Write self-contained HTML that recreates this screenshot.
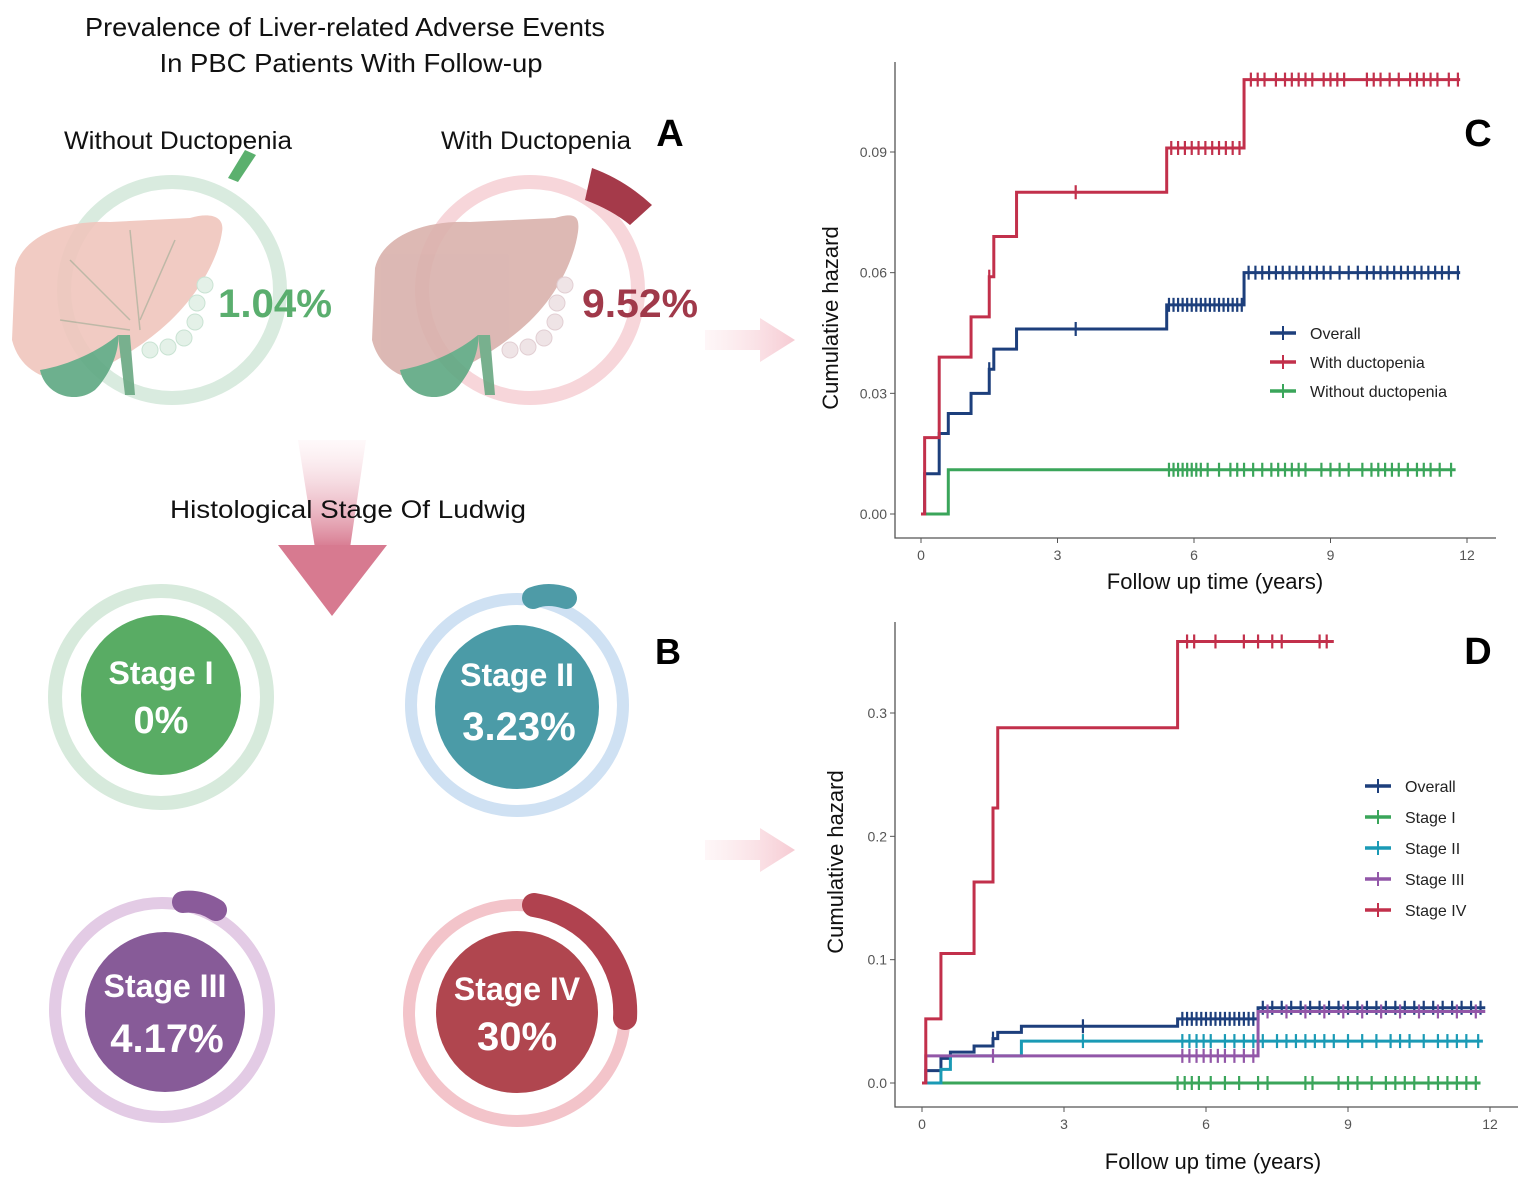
<!DOCTYPE html>
<html><head><meta charset="utf-8"><style>
html,body{margin:0;padding:0;background:#fff;}
svg{display:block;font-family:"Liberation Sans",sans-serif;}
</style></head><body>
<svg id="fig" width="1535" height="1186" viewBox="0 0 1535 1186" xmlns="http://www.w3.org/2000/svg">
<defs>
<linearGradient id="gArrowR" x1="0" x2="1" y1="0" y2="0"><stop offset="0" stop-color="#fbe3e7" stop-opacity="0.3"/><stop offset="1" stop-color="#f6cbd3"/></linearGradient>
<linearGradient id="gArrowD" x1="0" x2="0" y1="0" y2="1"><stop offset="0" stop-color="#fbe1e6" stop-opacity="0.2"/><stop offset="1" stop-color="#d77a90"/></linearGradient>
</defs>

<g>
<text x="345" y="36" text-anchor="middle" font-size="26" fill="#111" textLength="520" lengthAdjust="spacingAndGlyphs">Prevalence of Liver-related Adverse Events</text>
<text x="351" y="72" text-anchor="middle" font-size="26" fill="#111" textLength="383" lengthAdjust="spacingAndGlyphs">In PBC Patients With Follow-up</text>
</g>
<text x="178" y="149" text-anchor="middle" font-size="25" fill="#111" textLength="228" lengthAdjust="spacingAndGlyphs">Without Ductopenia</text>
<text x="536" y="149" text-anchor="middle" font-size="25" fill="#111" textLength="190" lengthAdjust="spacingAndGlyphs">With Ductopenia</text>
<text x="670" y="146" text-anchor="middle" font-size="38" font-weight="bold" fill="#000">A</text>
<text x="668" y="664" text-anchor="middle" font-size="36" font-weight="bold" fill="#000">B</text>
<text x="1478" y="146" text-anchor="middle" font-size="38" font-weight="bold" fill="#000">C</text>
<text x="1478" y="664" text-anchor="middle" font-size="38" font-weight="bold" fill="#000">D</text>

<g>
<circle cx="172" cy="290" r="108" fill="none" stroke="#d9ebdf" stroke-width="14"/>
<path d="M228,178 L238,182 L256,155 L245,150 Z" fill="#5bb06e"/>
<g opacity="0.9">
<path d="M15,268 C22,238 60,220 110,222 L190,218 C210,212 225,216 222,232 C218,260 196,300 160,330 C130,355 100,370 80,378 C50,385 20,372 12,340 Z" fill="#f0c6bd"/>
<path d="M40,370 C45,395 75,405 95,390 C110,375 120,350 118,335 C100,350 70,365 40,370 Z" fill="#5ea882"/>
<path d="M118,335 L125,395 L135,395 L130,335 Z" fill="#6aa882"/>
<path d="M130,230 L140,330 M70,260 L130,320 M175,240 L140,320 M60,320 L130,330" stroke="#b8b19e" stroke-width="1.5" fill="none"/>
</g>
<g fill="#e4f1e8" stroke="#c9e3d3"><circle cx="205" cy="285" r="8"/><circle cx="197" cy="303" r="8"/><circle cx="195" cy="322" r="8"/><circle cx="184" cy="338" r="8"/><circle cx="168" cy="347" r="8"/><circle cx="150" cy="350" r="8"/></g>
<text x="275" y="317" text-anchor="middle" font-size="40" font-weight="bold" fill="#5aae6e" textLength="114" lengthAdjust="spacingAndGlyphs">1.04%</text>
</g>
<g>
<circle cx="530" cy="290" r="108" fill="none" stroke="#f7d6da" stroke-width="14"/>
<path d="M592,168 Q625,180 652,205 L630,225 Q612,210 585,200 Z" fill="#a53a4a"/>
<g opacity="0.9">
<path d="M375,268 C382,238 420,220 470,222 L555,218 C575,212 580,216 578,232 C574,260 556,300 520,330 C490,355 460,370 440,378 C410,385 380,372 372,340 Z" fill="#d9b1ac"/>
<path d="M400,370 C405,395 435,405 455,390 C470,375 480,350 478,335 C460,350 430,365 400,370 Z" fill="#5ea882"/>
<path d="M478,335 L485,395 L495,395 L490,335 Z" fill="#6aa882"/>
</g>
<g fill="#efe4e6" stroke="#e2cfd3"><circle cx="565" cy="285" r="8"/><circle cx="557" cy="303" r="8"/><circle cx="555" cy="322" r="8"/><circle cx="544" cy="338" r="8"/><circle cx="528" cy="347" r="8"/><circle cx="510" cy="350" r="8"/></g>
<text x="640" y="317" text-anchor="middle" font-size="40" font-weight="bold" fill="#a0394a" textLength="116" lengthAdjust="spacingAndGlyphs">9.52%</text>
</g>

<path d="M705,330 L760,330 L760,318 L795,340 L760,362 L760,350 L705,350 Z" fill="url(#gArrowR)"/>
<path d="M705,840 L760,840 L760,828 L795,850 L760,872 L760,860 L705,860 Z" fill="url(#gArrowR)"/>
<g>
<path d="M298,440 L366,440 L350,548 L315,548 Z" fill="url(#gArrowD)"/>
<path d="M278,545 L387,545 L332,616 Z" fill="#d77a90"/>
</g>
<text x="348" y="518" text-anchor="middle" font-size="25" fill="#111" textLength="356" lengthAdjust="spacingAndGlyphs">Histological Stage Of Ludwig</text>

<g>
<circle cx="161" cy="697" r="106" fill="none" stroke="#d7eadc" stroke-width="14"/>
<circle cx="161" cy="695" r="80" fill="#59ac64"/>
<text x="161" y="684" text-anchor="middle" font-size="32" font-weight="bold" fill="#fff">Stage I</text>
<text x="161" y="733" text-anchor="middle" font-size="38" font-weight="bold" fill="#fff">0%</text>
</g>
<g>
<circle cx="517" cy="705" r="106" fill="none" stroke="#cfe1f3" stroke-width="12"/>
<path d="M533,598 Q548,592 566,598" stroke="#4e9ba7" stroke-width="22" stroke-linecap="round" fill="none"/>
<circle cx="517" cy="707" r="82" fill="#4b9ba7"/>
<text x="517" y="686" text-anchor="middle" font-size="32" font-weight="bold" fill="#fff">Stage II</text>
<text x="519" y="740" text-anchor="middle" font-size="40" font-weight="bold" fill="#fff">3.23%</text>
</g>
<g>
<circle cx="162" cy="1010" r="107" fill="none" stroke="#e3cbe5" stroke-width="12"/>
<path d="M183,902 Q200,900 216,910" stroke="#8a5b9a" stroke-width="22" stroke-linecap="round" fill="none"/>
<circle cx="165" cy="1012" r="80" fill="#875b98"/>
<text x="165" y="997" text-anchor="middle" font-size="32" font-weight="bold" fill="#fff">Stage III</text>
<text x="167" y="1052" text-anchor="middle" font-size="40" font-weight="bold" fill="#fff">4.17%</text>
</g>
<g>
<circle cx="517" cy="1013" r="108" fill="none" stroke="#f3c4ca" stroke-width="12"/>
<path d="M534,905 A108,108 0 0 1 625,1018" stroke="#b0424f" stroke-width="24" stroke-linecap="round" fill="none"/>
<circle cx="517" cy="1012" r="81" fill="#b0464f"/>
<text x="517" y="1000" text-anchor="middle" font-size="32" font-weight="bold" fill="#fff">Stage IV</text>
<text x="517" y="1050" text-anchor="middle" font-size="40" font-weight="bold" fill="#fff">30%</text>
</g>

<g id="chartC"></g>
<g id="chartD"></g>
</svg>
<script>
const cTicksX = [0, 3, 6, 9, 12];
const cTicksY = [0, 0.03, 0.06, 0.09];
const cTickLabelsY = ["0.00", "0.03", "0.06", "0.09"];
const cRedT = [0.08, 0.4, 1.1, 1.5, 1.6, 2.1, 5.4, 7.1];
const cRedV = [0.019, 0.039, 0.049, 0.059, 0.069, 0.080, 0.091, 0.108];
const cRedEnd = 11.85;
const cRedCens = [1.5, 3.4, 5.5, 5.65, 5.8, 5.95, 6.1, 6.25, 6.4, 6.55, 6.7, 6.85, 7.0, 7.25, 7.4, 7.55, 7.8, 8.0, 8.15, 8.3, 8.45, 8.6, 8.85, 9.0, 9.15, 9.3, 9.8, 9.95, 10.1, 10.3, 10.5, 10.75, 10.9, 11.05, 11.2, 11.35, 11.6, 11.8];
const cBlueT = [0.08, 0.4, 0.6, 1.1, 1.5, 1.6, 2.1, 5.4, 7.1];
const cBlueV = [0.010, 0.020, 0.025, 0.030, 0.036, 0.041, 0.046, 0.052, 0.060];
const cBlueEnd = 11.85;
const cBlueCens = [1.5, 3.4, 5.45, 5.55, 5.65, 5.75, 5.85, 5.95, 6.05, 6.15, 6.25, 6.35, 6.45, 6.55, 6.65, 6.75, 6.85, 6.95, 7.05, 7.2, 7.35, 7.5, 7.65, 7.8, 7.95, 8.1, 8.25, 8.4, 8.55, 8.7, 8.85, 9.0, 9.2, 9.4, 9.6, 9.8, 9.95, 10.1, 10.25, 10.4, 10.55, 10.7, 10.85, 11.0, 11.15, 11.3, 11.45, 11.6, 11.8];
const cGreenT = [0.6];
const cGreenV = [0.011];
const cGreenEnd = 11.75;
const cGreenCens = [5.45, 5.55, 5.65, 5.75, 5.85, 5.95, 6.05, 6.15, 6.3, 6.55, 6.8, 6.95, 7.1, 7.3, 7.5, 7.7, 7.85, 8.0, 8.15, 8.3, 8.45, 8.8, 9.0, 9.2, 9.4, 9.7, 9.9, 10.05, 10.2, 10.35, 10.5, 10.7, 10.9, 11.05, 11.2, 11.4, 11.65];

const dTicksX = [0, 3, 6, 9, 12];
const dTicksY = [0, 0.1, 0.2, 0.3];
const dTickLabelsY = ["0.0", "0.1", "0.2", "0.3"];
const dIVT = [0.08, 0.4, 1.1, 1.5, 1.6, 5.4];
const dIVV = [0.052, 0.105, 0.163, 0.223, 0.288, 0.358];
const dIVEnd = 8.7;
const dIVCens = [5.6, 5.75, 6.2, 6.8, 7.1, 7.4, 7.6, 8.4, 8.55];
const dOvT = [0.08, 0.4, 0.6, 1.1, 1.5, 1.6, 2.1, 5.4, 7.1];
const dOvV = [0.010, 0.020, 0.025, 0.030, 0.036, 0.041, 0.046, 0.052, 0.061];
const dOvEnd = 11.9;
const dOvCens = [1.5, 3.4, 5.5, 5.6, 5.7, 5.8, 5.9, 6.0, 6.1, 6.2, 6.3, 6.4, 6.5, 6.6, 6.7, 6.8, 6.9, 7.0, 7.2, 7.4, 7.6, 7.8, 8.0, 8.2, 8.4, 8.6, 8.8, 9.0, 9.2, 9.4, 9.6, 9.8, 10.0, 10.2, 10.4, 10.6, 10.8, 11.0, 11.2, 11.4, 11.6, 11.8];
const dIIT = [0.4, 0.6, 2.1];
const dIIV = [0.011, 0.022, 0.034];
const dIIEnd = 11.85;
const dIICens = [3.4, 5.5, 5.65, 5.8, 5.95, 6.1, 6.4, 6.6, 6.8, 7.0, 7.2, 7.5, 7.7, 7.9, 8.1, 8.3, 8.5, 8.7, 9.0, 9.3, 9.6, 9.9, 10.1, 10.3, 10.6, 10.9, 11.1, 11.3, 11.5, 11.75];
const dIIIT = [0.08, 7.1];
const dIIIV = [0.022, 0.058];
const dIIIEnd = 11.9;
const dIIICens = [1.5, 5.5, 5.65, 5.8, 5.95, 6.1, 6.25, 6.4, 6.6, 6.8, 7.0, 7.3, 7.7, 8.1, 8.5, 8.9, 9.3, 9.7, 10.1, 10.5, 10.9, 11.3, 11.7];
const dIT = [];
const dIV2 = [];
const dIEnd = 11.8;
const dICens = [5.4, 5.55, 5.7, 5.85, 6.1, 6.4, 6.7, 7.1, 7.3, 8.1, 8.25, 8.8, 9.0, 9.2, 9.5, 9.8, 10.0, 10.2, 10.4, 10.7, 10.9, 11.1, 11.3, 11.5, 11.7];

const NS = "http://www.w3.org/2000/svg";
function mk(tag, attrs, parent) {
  const e = document.createElementNS(NS, tag);
  for (const k in attrs) e.setAttribute(k, attrs[k]);
  parent.appendChild(e);
  return e;
}
function valAt(T, V, t) { let v = 0; for (let i = 0; i < T.length; i++) if (T[i] <= t) v = V[i]; return v; }

function drawChart(g, cfg) {
  const sx = x => cfg.x0 + (x / 12) * (cfg.x12 - cfg.x0);
  const sy = y => cfg.y0 + (y / cfg.yTop) * (cfg.yTopPx - cfg.y0);
  const axis = mk("path", {d: `M${cfg.axL},${cfg.axT} L${cfg.axL},${cfg.axB} L${cfg.axR},${cfg.axB}`, stroke: "#555", "stroke-width": 1.3, fill: "none"}, g);
  
  
  cfg.ticksX.forEach(t => {
    mk("line", {x1: sx(t), x2: sx(t), y1: cfg.axB, y2: cfg.axB + 5, stroke: "#555"}, g);
    const lb = mk("text", {x: sx(t), y: cfg.axB + 22, "text-anchor": "middle", "font-size": 14, fill: "#555"}, g);
    lb.textContent = t;
    
    
  });
  cfg.ticksY.forEach((t, i) => {
    mk("line", {x1: cfg.axL - 5, x2: cfg.axL, y1: sy(t), y2: sy(t), stroke: "#555"}, g);
    const lb = mk("text", {x: cfg.axL - 8, y: sy(t) + 5, "text-anchor": "end", "font-size": 14, fill: "#555"}, g);
    lb.textContent = cfg.tickLabelsY[i];
    
    
  });
  const xt = mk("text", {x: cfg.xTitleX, y: cfg.xTitleY, "text-anchor": "middle", "font-size": 22, fill: "#111"}, g);
  xt.textContent = "Follow up time  (years)";
  
  
  const yt = mk("text", {x: 0, y: 0, "text-anchor": "middle", "font-size": 22, fill: "#111", transform: `translate(${cfg.yTitleX},${cfg.yTitleY}) rotate(-90)`}, g);
  yt.textContent = "Cumulative hazard";
  
  
  cfg.series.forEach(s => {
    let d = `M${sx(0)},${sy(0)}`, cur = 0;
    s.T.forEach((t, i) => { d += ` L${sx(t)},${sy(cur)} L${sx(t)},${sy(s.V[i])}`; cur = s.V[i]; });
    d += ` L${sx(s.end)},${sy(cur)}`;
    const p = mk("path", {d: d, stroke: s.color, "stroke-width": 3, fill: "none"}, g);
    
    
    s.cens.forEach(t => {
      const v = valAt(s.T, s.V, t);
      const c = mk("line", {x1: sx(t), x2: sx(t), y1: sy(v) - 7, y2: sy(v) + 7, stroke: s.color, "stroke-width": 2.2}, g);
      
      
    });
  });
  cfg.series.forEach((s, i) => {
    const pos = cfg.legOrder ? cfg.legOrder[i] : i;
    const ly = cfg.legY + pos * cfg.legDy;
    const lg = mk("g", {}, g);
    
    
    mk("line", {x1: cfg.legX, x2: cfg.legX + 26, y1: ly, y2: ly, stroke: s.color, "stroke-width": 3.5}, lg);
    mk("line", {x1: cfg.legX + 13, x2: cfg.legX + 13, y1: ly - 7, y2: ly + 7, stroke: s.color, "stroke-width": 2}, lg);
    const t = mk("text", {x: cfg.legX + 40, y: ly + 6, "font-size": 16, fill: "#222"}, lg);
    t.textContent = s.label;
  });
}

drawChart(document.getElementById("chartC"), {
  x0: 921, x12: 1467, y0: 514, yTop: 0.09, yTopPx: 152,
  axL: 895, axR: 1496, axT: 62, axB: 538,
  ticksX: cTicksX, ticksY: cTicksY, tickLabelsY: cTickLabelsY,
  xTitleX: 1215, xTitleY: 589, yTitleX: 838, yTitleY: 318,
  legX: 1270, legY: 333, legDy: 29, legOrder: [2, 0, 1],
  series: [
    {name: "without-ductopenia", label: "Without ductopenia", color: "#3aa55a", T: cGreenT, V: cGreenV, end: cGreenEnd, cens: cGreenCens},
    {name: "overall", label: "Overall", color: "#1d3f7c", T: cBlueT, V: cBlueV, end: cBlueEnd, cens: cBlueCens},
    {name: "with-ductopenia", label: "With ductopenia", color: "#c2304b", T: cRedT, V: cRedV, end: cRedEnd, cens: cRedCens}
  ]
});
drawChart(document.getElementById("chartD"), {
  x0: 922, x12: 1490, y0: 1083, yTop: 0.3, yTopPx: 713,
  axL: 895, axR: 1518, axT: 622, axB: 1107,
  ticksX: dTicksX, ticksY: dTicksY, tickLabelsY: dTickLabelsY,
  xTitleX: 1213, xTitleY: 1169, yTitleX: 843, yTitleY: 862,
  legX: 1365, legY: 786, legDy: 31,
  series: [
    {name: "overall", label: "Overall", color: "#1d3f7c", T: dOvT, V: dOvV, end: dOvEnd, cens: dOvCens},
    {name: "stage-i", label: "Stage I", color: "#3aa55a", T: dIT, V: dIV2, end: dIEnd, cens: dICens},
    {name: "stage-ii", label: "Stage II", color: "#1a9ab5", T: dIIT, V: dIIV, end: dIIEnd, cens: dIICens},
    {name: "stage-iii", label: "Stage III", color: "#9257a8", T: dIIIT, V: dIIIV, end: dIIIEnd, cens: dIIICens},
    {name: "stage-iv", label: "Stage IV", color: "#c2304b", T: dIVT, V: dIVV, end: dIVEnd, cens: dIVCens}
  ]
});
</script>
</body></html>
